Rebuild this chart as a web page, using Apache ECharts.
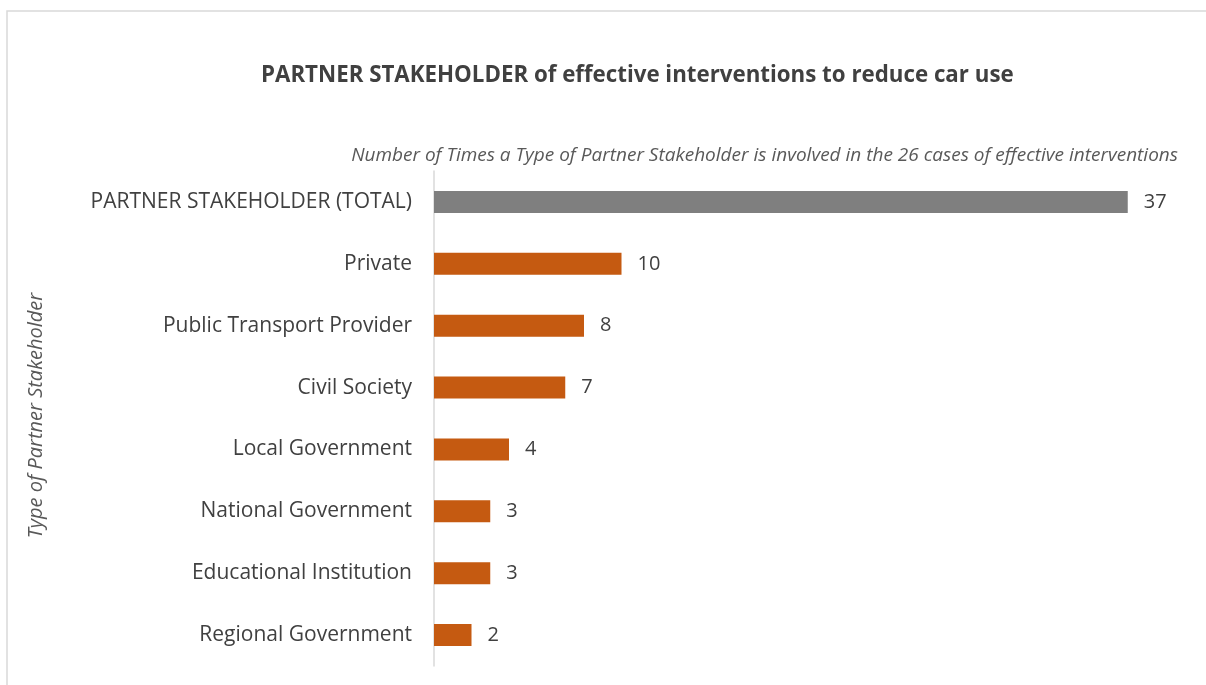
<!DOCTYPE html>
<html><head><meta charset="utf-8">
<script src="https://cdn.jsdelivr.net/npm/echarts@6/dist/echarts.min.js"></script>
<style>html,body{margin:0;padding:0;background:#fff}#c{width:1206px;height:685px}</style>
</head><body><div id="c"></div>
<script>
const categories = ["PARTNER STAKEHOLDER (TOTAL)","Private","Public Transport Provider","Civil Society","Local Government","National Government","Educational Institution","Regional Government"];
const values = [37,10,8,7,4,3,3,2];
const barColors = ["#7f7f7f","#c55a11","#c55a11","#c55a11","#c55a11","#c55a11","#c55a11","#c55a11"];
const titleText = "PARTNER STAKEHOLDER of effective interventions to reduce car use";
const xAxisTitle = "Number of Times a Type of Partner Stakeholder is involved in the 26 cases of effective interventions";
const yAxisTitle = "Type of Partner Stakeholder";

const FONT = "Open Sans";
const chart = echarts.init(document.getElementById('c'), null, {renderer:'canvas'});
chart.setOption({
  animation:false,
  backgroundColor:'#fff',
  graphic:[{type:'rect',shape:{x:7,y:11,width:1300,height:800},style:{fill:'none',stroke:'#d9d9d9',lineWidth:1.5},silent:true}],
  title:{text:titleText,left:256,top:60,textStyle:{fontFamily:FONT,fontSize:22.3,fontWeight:'bold',color:'#404040'}},
  grid:{left:434,right:22,top:171,bottom:19,containLabel:false},
  xAxis:{type:'value',min:0,max:40,position:'top',show:true,
    axisLine:{show:false},axisTick:{show:false},axisLabel:{show:false},splitLine:{show:false},
    name:xAxisTitle,nameLocation:'end',nameGap:0,
    nameTextStyle:{fontFamily:FONT,fontStyle:'italic',fontSize:19,color:'#595959',align:'right',verticalAlign:'bottom',padding:[0,6,6,0]}},
  yAxis:{type:'category',data:categories,inverse:true,
    axisLine:{show:true,lineStyle:{color:'#d9d9d9',width:1.5}},axisTick:{show:false},
    axisLabel:{fontFamily:FONT,fontSize:21,color:'#404040',margin:22},
    name:yAxisTitle,nameLocation:'middle',nameGap:388,nameRotate:90,
    nameTextStyle:{fontFamily:FONT,fontStyle:'italic',fontSize:20,color:'#595959',padding:[0,0,0,6]}},
  series:[{type:'bar',barWidth:22,
    data:values.map((v,i)=>({value:v,itemStyle:{color:barColors[i]}})),
    label:{show:true,position:'right',distance:16,fontFamily:FONT,fontSize:20,color:'#404040'}}]
});
</script></body></html>
